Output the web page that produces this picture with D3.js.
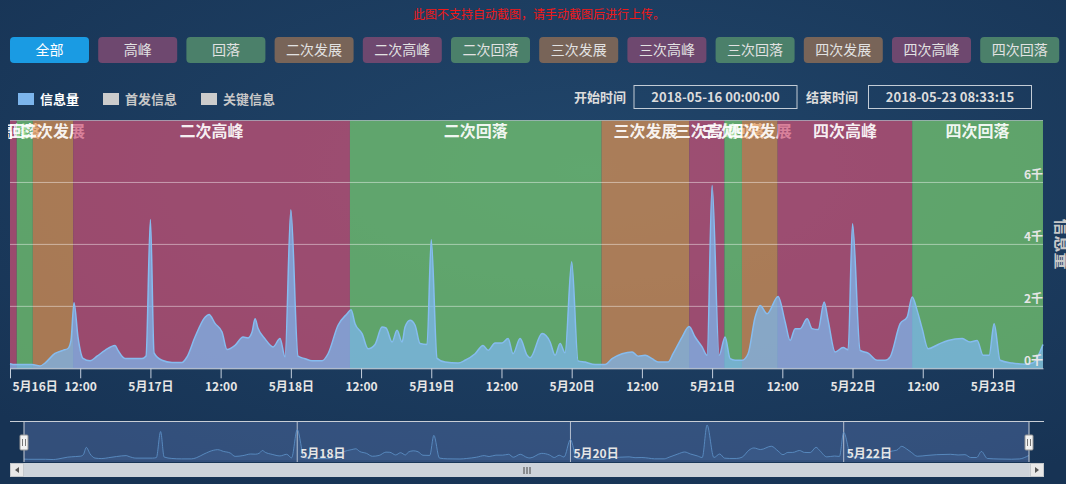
<!DOCTYPE html>
<html><head><meta charset="utf-8">
<script src="https://cdn.jsdelivr.net/npm/d3@7"></script>
<style>
html,body{margin:0;padding:0;width:1066px;height:484px;overflow:hidden;background:#1b3a5c;}
svg{display:block;font-family:"Noto Sans CJK SC","Microsoft YaHei",sans-serif;}
</style></head><body>
<svg id="chart" width="1066" height="484"></svg>
<script>
// ---------- data ----------
const startTime = "2018-05-16 00:00:00";
const endTime = "2018-05-23 08:33:15";
// hours after start time
const hourOffsets = [0,0.85,3.76,5.13,5.98,7.69,9.06,9.91,10.43,10.94,11.62,12.48,13.68,14.87,16.24,17.95,18.46,19.66,22.56,23.25,24,24.62,25.98,27.69,29.4,30.26,31.62,33.33,34.02,35.04,36.24,37.09,38.46,39.83,40.68,41.37,41.88,42.39,43.59,44.96,46.15,47.01,48,49.23,50.43,51.62,53.33,54.36,56.07,57.61,58.29,58.97,60.17,61.2,62.39,63.59,64.27,65.3,66.15,67.01,67.52,68.38,69.23,70.09,71.28,72,72.99,74.36,76.58,77.78,79.49,80.85,81.71,82.91,84.1,85.13,85.98,87.18,88.38,88.89,90.94,92.31,93.16,94.02,94.87,96,97.09,98.29,100,101.71,102.91,104.62,106.32,107.35,108.55,109.74,110.77,112.48,113.33,114.87,116.07,117.09,118.29,119.15,120,121.2,122.22,123.08,123.93,125.13,126.15,127.35,128.21,129.4,131.28,132.48,133.33,134.19,135.04,136.24,137.09,138.12,139.15,139.83,141.03,142.39,143.25,144,145.3,146.67,148.21,149.57,150.43,152.14,153.33,154.19,155.04,155.9,156.92,158.63,160.34,162.74,164.1,165.3,166.32,167.35,168.2,169.23,171.28,173.5,174.87,176.55];
const values = [150,120,120,75,170,480,580,640,900,2120,1010,320,240,390,580,740,580,320,320,400,4800,500,260,190,190,370,1010,1650,1740,1450,1170,610,740,1010,980,1170,1600,1290,950,690,960,370,5120,390,310,240,240,470,1390,1760,1890,1440,1120,630,770,1330,1300,850,1230,850,1330,1550,1390,800,770,4150,320,200,170,260,470,740,580,820,820,960,470,960,420,340,1120,850,420,800,500,3440,240,200,120,120,310,470,530,390,420,310,200,200,470,1010,1350,1010,690,420,5900,420,1010,310,260,260,470,1650,2030,1760,2320,1500,900,1280,1280,1600,1280,1250,2140,1550,530,670,600,4670,580,490,260,260,370,1440,1650,2300,1870,1280,630,770,900,960,850,900,420,420,1440,260,170,130,180,770];

const bandNames = ["高峰","回落","二次发展","二次高峰","二次回落","三次发展","三次高峰","三次回落","四次发展","四次高峰","四次回落"];
const bandTypes = ["peak","fall","grow","peak","fall","grow","peak","fall","grow","peak","fall"];
const bandStartHours = [0,1.15,3.9,10.8,58.1,101.1,116.1,122.1,125.1,131.2,154.2];
const bandEndHours = [1.15,3.9,10.8,58.1,101.1,116.1,122.1,125.1,131.2,154.2,176.55];

const buttonLabels = ["全部","高峰","回落","二次发展","二次高峰","二次回落","三次发展","三次高峰","三次回落","四次发展","四次高峰","四次回落"];
const buttonTypes = ["all","peak","fall","grow","peak","fall","grow","peak","fall","grow","peak","fall"];

const yTickValues = [0,2000,4000,6000,8000];
const legendNames = ["信息量","首发信息","关键信息"];
const legendActive = [true,false,false];
const notice = "此图不支持自动截图，请手动截图后进行上传。";
const axisTitle = "信息量";

// ---------- styles ----------
const bandColor = {peak:"rgb(210,82,118)", fall:"rgb(124,208,113)", grow:"rgb(229,149,82)"};
const buttonColor = {all:"#1a9be3", peak:"#6e486f", fall:"#4b806a", grow:"#786458"};

const svg = d3.select("#chart");
const defs = svg.append("defs");
const rg = defs.append("radialGradient").attr("id","bg").attr("cx","55%").attr("cy","35%").attr("r","75%");
rg.append("stop").attr("offset","0%").attr("stop-color","#21466b");
rg.append("stop").attr("offset","100%").attr("stop-color","#173354");
svg.append("rect").attr("width",1066).attr("height",484).attr("fill","url(#bg)");

const parse = d3.timeParse("%Y-%m-%d %H:%M:%S");
const t0 = parse(startTime), t1 = parse(endTime);
const H = 3600e3;
const toTime = h => new Date(+t0 + h*H);
const data = hourOffsets.map((h,i)=>({t:toTime(h), v:values[i]}));

// ---------- notice ----------
svg.append("text").attr("x",539).attr("y",19).attr("text-anchor","middle")
  .attr("font-size",12).attr("fill","#f01818").text(notice);

// ---------- buttons ----------
const btn = svg.append("g").selectAll("g").data(buttonLabels).join("g")
  .attr("transform",(d,i)=>`translate(${10+88.2*i},37)`);
btn.append("rect").attr("width",79).attr("height",26).attr("rx",4)
  .attr("fill",(d,i)=>buttonColor[buttonTypes[i]]);
btn.append("text").attr("x",39.5).attr("y",18).attr("text-anchor","middle")
  .attr("font-size",14).attr("fill",(d,i)=>i===0?"#ffffff":"#e2e2e2").text(d=>d);

// ---------- legend ----------
const legX = [18,103,201];
const lg = svg.append("g").selectAll("g").data(legendNames).join("g")
  .attr("transform",(d,i)=>`translate(${legX[i]},93)`);
lg.append("rect").attr("width",16).attr("height",12).attr("fill",(d,i)=>legendActive[i]?"#7cb5ec":"#cccccc");
lg.append("text").attr("x",22).attr("y",11).attr("font-size",13).attr("font-weight","bold")
  .attr("fill",(d,i)=>legendActive[i]?"#ffffff":"#c8c8c8").text(d=>d);

// ---------- date range inputs ----------
const fmtFull = d3.timeFormat("%Y-%m-%d %H:%M:%S");
const dateBoxes = [{label:"开始时间", lx:574, bx:634, val:fmtFull(t0)},{label:"结束时间", lx:806, bx:868.5, val:fmtFull(t1)}];
const db = svg.append("g").selectAll("g").data(dateBoxes).join("g");
db.append("text").attr("x",d=>d.lx).attr("y",102).attr("font-size",13).attr("font-weight","bold").attr("fill","#dcdcdc").text(d=>d.label);
db.append("rect").attr("x",d=>d.bx).attr("y",85.5).attr("width",163).attr("height",23).attr("fill","none").attr("stroke","#c3ccd6");
db.append("text").attr("x",d=>d.bx+81.5).attr("y",102).attr("text-anchor","middle").attr("font-size",13).attr("font-weight","bold").attr("fill","#dcdcdc").text(d=>d.val);

// ---------- main plot ----------
const x = d3.scaleTime().domain([t0,t1]).range([10,1043]);
const y = d3.scaleLinear().domain([0,8000]).range([368.3,120.5]);

defs.append("clipPath").attr("id","lblclip").append("rect").attr("x",8).attr("y",100).attr("width",1040).attr("height",60);

const bandsG = svg.append("g");
bandNames.forEach((name,i)=>{
  const xa = x(toTime(bandStartHours[i])), xb = x(toTime(bandEndHours[i]));
  bandsG.append("rect").attr("x",xa).attr("y",y(8000)).attr("width",xb-xa).attr("height",y(0)-y(8000))
    .attr("fill",bandColor[bandTypes[i]]).attr("fill-opacity",0.7);
  bandsG.append("text").attr("clip-path","url(#lblclip)").attr("x",(xa+xb)/2).attr("y",137)
    .attr("text-anchor","middle").attr("font-size",16).attr("font-weight","bold")
    .attr("fill","#ffffff").attr("fill-opacity",0.92).text(name);
});

// grid lines
svg.append("g").selectAll("line").data(yTickValues).join("line")
  .attr("x1",10).attr("x2",1043).attr("y1",d=>y(d)).attr("y2",d=>y(d))
  .attr("stroke","#ffffff").attr("stroke-opacity",0.45);

// area series
const area = d3.area().x(d=>x(d.t)).y0(y(0)).y1(d=>y(d.v)).curve(d3.curveMonotoneX);
const line = d3.line().x(d=>x(d.t)).y(d=>y(d.v)).curve(d3.curveMonotoneX);
svg.append("path").datum(data).attr("d",area).attr("fill","#7cb5ec").attr("fill-opacity",0.75);
svg.append("path").datum(data).attr("d",line).attr("fill","none").attr("stroke","#86bcef").attr("stroke-width",1.5);

// y labels (right, inside)
svg.append("g").selectAll("text").data(yTickValues.filter(v=>v<8000)).join("text")
  .attr("x",1043).attr("y",d=>y(d)-3).attr("text-anchor","end").attr("font-size",12).attr("font-weight","bold")
  .attr("fill","#e6e6e6").text(d=>(d/1000)+"千");

// axis title (right, rotated, partly off canvas)
svg.append("text").attr("transform","translate(1056,244) rotate(90)").attr("text-anchor","middle")
  .attr("font-size",17).attr("font-weight","bold").attr("fill","#c8c8c8").text(axisTitle);

// x axis
const xTicks = d3.timeHour.every(12).range(t0, t1);
const fmtDay = d3.timeFormat("%-m月%-d日");
const xAxis = d3.axisBottom(x).tickValues(xTicks).tickSize(10).tickSizeOuter(0).tickPadding(4)
  .tickFormat(d=>d.getHours()===0?fmtDay(d):"12:00");
const xa = svg.append("g").attr("transform","translate(0,368.3)").call(xAxis);
xa.select(".domain").attr("stroke","#c5cfdc");
xa.selectAll(".tick line").attr("stroke","#c5cfdc");
xa.selectAll(".tick text").attr("fill","#e6e6e6").attr("font-size",12).attr("font-weight","bold")
  .attr("font-family","'Noto Sans CJK SC',sans-serif");
xa.selectAll(".tick text").filter((d,i)=>i===0).attr("text-anchor","start").attr("x",2);

// ---------- navigator ----------
const navTop = 421, navBot = 462;
const nx = d3.scaleTime().domain([t0,t1]).range([24,1029]);
const ny = d3.scaleLinear().domain([0,d3.max(values)]).range([460,425]);
svg.append("rect").attr("x",nx(t0)).attr("y",navTop).attr("width",nx(t1)-nx(t0)).attr("height",navBot-navTop)
  .attr("fill","rgb(102,133,194)").attr("fill-opacity",0.35);
const navTicks = d3.timeDay.range(d3.timeDay.offset(t0,1), t1).filter(d=>d.getDate()%2===0);
svg.append("g").selectAll("line").data(navTicks).join("line")
  .attr("x1",d=>nx(d)).attr("x2",d=>nx(d)).attr("y1",navTop).attr("y2",navBot)
  .attr("stroke","#e0e4ea").attr("stroke-opacity",0.75);
const narea = d3.area().x(d=>nx(d.t)).y0(ny(0)).y1(d=>ny(d.v)).curve(d3.curveMonotoneX);
const nline = d3.line().x(d=>nx(d.t)).y(d=>ny(d.v)).curve(d3.curveMonotoneX);
svg.append("path").datum(data).attr("d",narea).attr("fill","#7cb5ec").attr("fill-opacity",0.08);
svg.append("path").datum(data).attr("d",nline).attr("fill","none").attr("stroke","#5f95cc").attr("stroke-opacity",0.8).attr("stroke-width",1);
svg.append("g").selectAll("text").data(navTicks).join("text")
  .attr("x",d=>nx(d)+3).attr("y",458).attr("font-size",12).attr("font-weight","bold")
  .attr("fill","#e6e6e6").text(d=>fmtDay(d));
// outline
svg.append("line").attr("x1",10).attr("x2",1044).attr("y1",navTop+0.5).attr("y2",navTop+0.5).attr("stroke","#c8ced6");
[nx(t0),nx(t1)].forEach(px=>{
  svg.append("line").attr("x1",px).attr("x2",px).attr("y1",navTop).attr("y2",navBot).attr("stroke","#c8ced6");
  svg.append("rect").attr("x",px-4).attr("y",435).attr("width",8).attr("height",15).attr("rx",1)
    .attr("fill","#f2f2f2").attr("stroke","#999");
  [-1.5,1.5].forEach(o=>svg.append("line").attr("x1",px+o).attr("x2",px+o).attr("y1",439).attr("y2",446).attr("stroke","#777"));
});

// scrollbar
const sb = svg.append("g");
sb.append("rect").attr("x",10).attr("y",463).attr("width",1034).attr("height",14).attr("fill","#d2d7dd");
sb.append("rect").attr("x",nx(t0)).attr("y",463).attr("width",nx(t1)-nx(t0)).attr("height",14).attr("fill","#cdd3da");
sb.append("rect").attr("x",10.5).attr("y",463.5).attr("width",13).attr("height",13).attr("fill","#e8e8e8").attr("stroke","#c4c8cc");
sb.append("rect").attr("x",1030.5).attr("y",463.5).attr("width",13).attr("height",13).attr("fill","#e8e8e8").attr("stroke","#c4c8cc");
sb.append("path").attr("d","M19,467 L19,473 L15,470 Z").attr("fill","#555");
sb.append("path").attr("d","M1035,467 L1035,473 L1039,470 Z").attr("fill","#555");
const cx = (nx(t0)+nx(t1))/2;
[-3,0,3].forEach(o=>sb.append("line").attr("x1",cx+o+0.5).attr("x2",cx+o+0.5).attr("y1",467).attr("y2",474).attr("stroke","#444"));
</script>
</body></html>
